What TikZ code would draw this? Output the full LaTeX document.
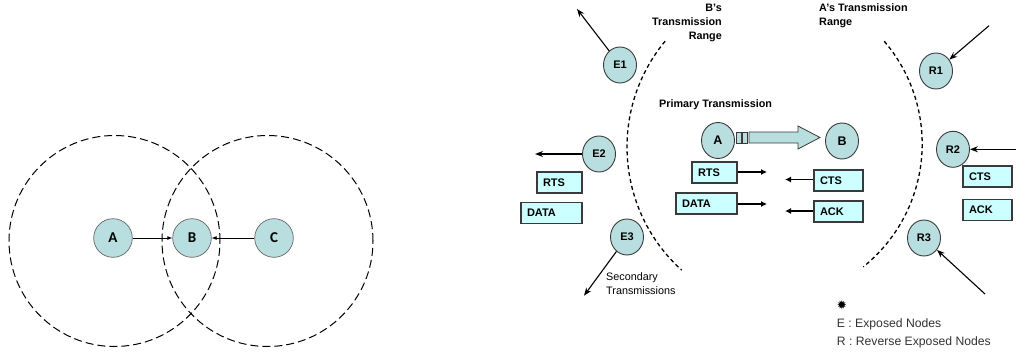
\documentclass[tikz,border=0pt]{standalone}
\usepackage{fontspec}
\setmainfont{Liberation Sans}
\newfontfamily\carlito{Carlito}
\newfontfamily\symfont{DejaVu Sans}
\usetikzlibrary{shapes.geometric,arrows.meta}
\definecolor{nodefill}{HTML}{B9DEDF}
\definecolor{boxfill}{HTML}{CCFFFF}
\definecolor{edge}{HTML}{3A3A3A}
\definecolor{legendtext}{HTML}{333333}
\begin{document}
\begin{tikzpicture}[x=1pt,y=1pt,
  stationnode/.style={circle,draw=gray!80!black,fill=nodefill,minimum size=38.6pt,inner sep=0pt,
    font=\carlito\bfseries\fontsize{15}{15}\selectfont,line width=0.7pt},
  coverring/.style={draw=black,dash pattern=on 8pt off 4pt,line width=1pt},
  linkarrow/.style={-{Latex[length=5pt,width=4pt]},line width=0.8pt},
  hostnode/.style={ellipse,draw=edge,fill=nodefill,minimum width=33pt,minimum height=36pt,inner sep=0pt,
    line width=0.9pt,font=\bfseries\fontsize{11}{12}\selectfont},
  pairnode/.style={hostnode,font=\bfseries\fontsize{12.5}{12.5}\selectfont},
  pktbox/.style={rectangle,draw=edge,fill=boxfill,minimum height=21pt,inner xsep=6pt,inner ysep=0pt,
    align=left,line width=1.1pt,font=\bfseries\fontsize{11}{12}\selectfont},
  reacharc/.style={draw=black,dash pattern=on 4pt off 3pt,line width=1.3pt},
  flowarrow/.style={-{Latex[length=6pt,width=6pt]},line width=1.1pt},
  txarrow/.style={-{Stealth[length=8pt,width=6pt]},line width=1.1pt},
  lbltext/.style={font=\bfseries\fontsize{10.8}{14.3}\selectfont,inner sep=0pt},
  legendlbl/.style={font=\fontsize{12.2}{14}\selectfont,text=legendtext,inner sep=0pt,anchor=west},
]
\useasboundingbox (0,0) rectangle (1016,354);

% ---- hidden terminal: two overlapping ranges ----
\draw[coverring] (114.5,113) circle[radius=105.5];
\draw[coverring] (267.5,113) circle[radius=105.5];
\node[stationnode] (lA) at (113,116) {A};
\node[stationnode] (lB) at (192,116) {B};
\node[stationnode] (lC) at (274,116) {C};
\draw[linkarrow] (lA) -- (lB);
\draw[linkarrow] (lC) -- (lB);

% ---- exposed / reverse exposed nodes ----
\draw[reacharc] (665.1,312.8) arc[start angle=140.4, end angle=227.9, radius=166];
\draw[reacharc] (884.2,312.8) arc[start angle=40.6, end angle=-51.2, radius=157.8];

\node[lbltext,align=right,anchor=east] (brange) at (722,331) {B's\\Transmission\\Range};
\node[lbltext,align=left,anchor=west] (arange) at (819,338.2) {A's Transmission\\Range};
\node[lbltext,anchor=west] (primary) at (659,249) {Primary Transmission};
\node[font=\fontsize{10.8}{14}\selectfont,align=left,anchor=west,inner sep=0pt] (secondary) at (606,70.3) {Secondary\\Transmissions};

% primary pair
\node[pairnode] (A) at (718,213.5) {A};
\node[pairnode] (B) at (842,213) {B};
\draw[edge,fill=nodefill,line width=0.8pt] (736,211) rectangle (741,222);
\draw[edge,fill=nodefill,line width=0.8pt] (742,211) rectangle (747,222);
\draw[edge,fill=nodefill,line width=0.8pt] (749,211) -- (798,211) -- (798,205) -- (820,216.5)
  -- (798,228) -- (798,222) -- (749,222) -- cycle;

\node[pktbox,text width=33pt] (rtsA) at (714.5,181.5) {RTS};
\node[pktbox,text width=49pt] (dataA) at (706.5,150.5) {DATA};
\node[pktbox,text width=37pt] (ctsB) at (838.5,173.5) {CTS};
\node[pktbox,text width=37pt] (ackB) at (838.5,142.5) {ACK};
\coordinate (rtsT) at (767,182);
\coordinate (dataT) at (767,150);
\coordinate (ctsT) at (785,174.5);
\coordinate (ackT) at (785,143);
\draw[flowarrow] (rtsA.east |- rtsT) -- (rtsT);
\draw[flowarrow] (dataA.east |- dataT) -- (dataT);
\draw[flowarrow] (ctsB.west |- ctsT) -- (ctsT);
\draw[flowarrow] (ackB.west |- ackT) -- (ackT);

% exposed nodes
\node[hostnode] (E1) at (620,289) {E1};
\node[hostnode] (E2) at (599,200) {E2};
\node[hostnode] (E3) at (627,117) {E3};
\node[pktbox,text width=33pt] (rtsE) at (559.5,171.5) {RTS};
\node[pktbox,text width=49pt] (dataE) at (551.5,141) {DATA};
\coordinate (e1t) at (577,345);
\coordinate (e2t) at (535,200);
\coordinate (e3t) at (584,58.3);
\draw[txarrow] (E1) -- (e1t);
\draw[txarrow] (E2) -- (e2t);
\draw[txarrow] (E3) -- (e3t);

% reverse exposed nodes
\node[hostnode] (R1) at (936,283) {R1};
\node[hostnode] (R2) at (953,204.7) {R2};
\node[hostnode] (R3) at (924,116) {R3};
\node[pktbox,text width=37pt] (ctsR) at (987.5,177.5) {CTS};
\node[pktbox,text width=37pt] (ackR) at (987.5,144) {ACK};
\coordinate (r1s) at (989,328.3);
\coordinate (r2s) at (1016,204.7);
\coordinate (r3s) at (985,60);
\draw[txarrow] (r1s) -- (R1);
\draw[txarrow] (r2s) -- (R2);
\draw[txarrow] (r3s) -- (R3);

% legend
\node[font=\symfont\fontsize{12}{12}\selectfont,inner sep=0pt] (star) at (842,49) {✹};
\node[legendlbl] (legE) at (836.7,30) {E : Exposed Nodes};
\node[legendlbl] (legR) at (836.7,11.7) {R : Reverse Exposed Nodes};
\end{tikzpicture}
\end{document}
